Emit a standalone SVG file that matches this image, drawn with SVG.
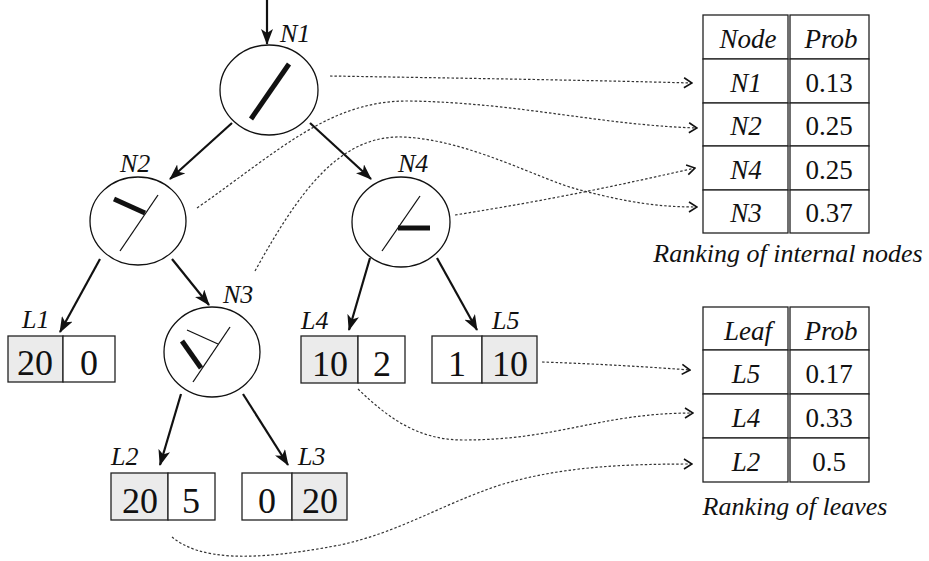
<svg xmlns="http://www.w3.org/2000/svg" width="929" height="561" viewBox="0 0 929 561">
<style>
text{fill:#111}
.it{font-style:italic}
.lbl{font-size:26px;font-style:italic}
.num{font-size:36px;text-anchor:middle}
.tb{font-size:27px;text-anchor:middle}
.cap{font-size:26px;font-style:italic;text-anchor:middle}
.node{fill:#fff;stroke:#111;stroke-width:1.3}
.thin{stroke:#111;stroke-width:1.3;fill:none}
.thick{stroke:#111;stroke-width:5;fill:none}
.box{fill:#fff;stroke:#222;stroke-width:1.3}
.gray{fill:#ebebeb;stroke:#222;stroke-width:1.3}
.arr{stroke:#111;stroke-width:2.2;fill:none;marker-end:url(#ah)}
.dot{stroke:#333;stroke-width:1.2;fill:none;stroke-dasharray:2.5,2;marker-end:url(#oa)}
.cell{fill:#fff;stroke:#222;stroke-width:1.3}
</style>
<defs>
<marker id="ah" viewBox="0 0 16 12" refX="15" refY="6" markerWidth="16" markerHeight="12" markerUnits="userSpaceOnUse" orient="auto">
<path d="M0,0 L16,6 L0,12 L4,6 z" fill="#111"/>
</marker>
<marker id="oa" viewBox="0 0 10 12" refX="9" refY="6" markerWidth="10" markerHeight="12" markerUnits="userSpaceOnUse" orient="auto">
<path d="M1,1 L9,6 L1,11" fill="none" stroke="#111" stroke-width="1.6"/>
</marker>
</defs>

<g id="connectors">
<line class="arr" x1="267" y1="0" x2="267" y2="44"/>
<line class="arr" x1="232" y1="123" x2="170" y2="179"/>
<line class="arr" x1="310" y1="123" x2="371" y2="179"/>
<line class="arr" x1="100" y1="259" x2="60" y2="332"/>
<line class="arr" x1="172" y1="259" x2="209" y2="305"/>
<line class="arr" x1="370" y1="258" x2="349" y2="330"/>
<line class="arr" x1="437" y1="258" x2="477" y2="330"/>
<line class="arr" x1="181" y1="394" x2="160" y2="465"/>
<line class="arr" x1="243" y1="394" x2="288" y2="465"/>
<path class="dot" d="M330,76 C450,78 580,80 692,83"/>
<path class="dot" d="M197,208 C280,150 330,100 410,101 C520,103 600,125 697,128"/>
<path class="dot" d="M255,271 C300,190 340,135 403,137 C470,140 540,180 580,190 C630,203 660,207 697,207"/>
<path class="dot" d="M455,215 C550,200 620,185 695,168"/>
<path class="dot" d="M542,362 C600,364 650,367 690,370"/>
<path class="dot" d="M358,389 C390,420 420,440 463,440 C560,440 600,413 693,413"/>
<path class="dot" d="M172,537 C200,560 250,562 340,545 C400,532 440,505 500,485 C560,467 620,464 692,464"/>
</g>

<g font-family="Liberation Serif, Tinos, Times New Roman, Times, Nimbus Roman, FreeSerif, DejaVu Serif, Noto Serif, serif">
<g id="N1">
<ellipse class="node" cx="269" cy="90" rx="49" ry="45"/>
<line class="thick" x1="251" y1="119" x2="289" y2="64"/>
<text class="lbl" x="280" y="42">N1</text>
</g>
<g id="N2">
<ellipse class="node" cx="138" cy="221" rx="48" ry="44"/>
<line class="thin" x1="120" y1="251" x2="158" y2="195"/>
<line class="thick" x1="114" y1="199" x2="145" y2="213"/>
<text class="lbl" x="120" y="172">N2</text>
</g>
<g id="N4">
<ellipse class="node" cx="401" cy="222" rx="49" ry="45"/>
<line class="thin" x1="382" y1="251" x2="420" y2="196"/>
<line class="thick" x1="398" y1="228" x2="430" y2="228"/>
<text class="lbl" x="398" y="172">N4</text>
</g>
<g id="N3">
<ellipse class="node" cx="212" cy="352" rx="48" ry="45"/>
<line class="thin" x1="193" y1="382" x2="230" y2="327"/>
<line class="thin" x1="187" y1="330" x2="218" y2="344"/>
<line class="thick" x1="182" y1="341" x2="201" y2="368"/>
<text class="lbl" x="223" y="303">N3</text>
</g>

<g id="L1">
<rect class="gray" x="8" y="336" width="55" height="46"/>
<rect class="box" x="63" y="336" width="52" height="46"/>
<text class="num" x="35" y="375">20</text>
<text class="num" x="89" y="375">0</text>
<text class="lbl" x="22" y="328">L1</text>
</g>
<g id="L4">
<rect class="gray" x="301" y="336" width="57" height="47"/>
<rect class="box" x="358" y="336" width="47" height="47"/>
<text class="num" x="330" y="376">10</text>
<text class="num" x="382" y="376">2</text>
<text class="lbl" x="301" y="329">L4</text>
</g>
<g id="L5">
<rect class="box" x="432" y="336" width="50" height="47"/>
<rect class="gray" x="482" y="336" width="55" height="47"/>
<text class="num" x="457" y="376">1</text>
<text class="num" x="510" y="376">10</text>
<text class="lbl" x="492" y="329">L5</text>
</g>
<g id="L2">
<rect class="gray" x="111" y="473" width="57" height="47"/>
<rect class="box" x="168" y="473" width="47" height="47"/>
<text class="num" x="140" y="513">20</text>
<text class="num" x="191" y="513">5</text>
<text class="lbl" x="111" y="465">L2</text>
</g>
<g id="L3">
<rect class="box" x="242" y="473" width="50" height="47"/>
<rect class="gray" x="292" y="473" width="55" height="47"/>
<text class="num" x="267" y="513">0</text>
<text class="num" x="320" y="513">20</text>
<text class="lbl" x="298" y="465">L3</text>
</g>

<g id="node-table">
<rect class="cell" x="703" y="15" width="85" height="44"/>
<rect class="cell" x="790" y="15" width="79" height="44"/>
<rect class="cell" x="703" y="59" width="85" height="44"/>
<rect class="cell" x="790" y="59" width="79" height="44"/>
<rect class="cell" x="703" y="103" width="85" height="43"/>
<rect class="cell" x="790" y="103" width="79" height="43"/>
<rect class="cell" x="703" y="146" width="85" height="44"/>
<rect class="cell" x="790" y="146" width="79" height="44"/>
<rect class="cell" x="703" y="190" width="85" height="43"/>
<rect class="cell" x="790" y="190" width="79" height="43"/>
<text class="tb it" x="748" y="48">Node</text>
<text class="tb it" x="831" y="48">Prob</text>
<text class="tb it" x="746" y="92">N1</text>
<text class="tb" x="829" y="92">0.13</text>
<text class="tb it" x="746" y="135">N2</text>
<text class="tb" x="829" y="135">0.25</text>
<text class="tb it" x="746" y="179">N4</text>
<text class="tb" x="829" y="179">0.25</text>
<text class="tb it" x="746" y="222">N3</text>
<text class="tb" x="829" y="222">0.37</text>
<text class="cap" x="788" y="262">Ranking of internal nodes</text>
</g>

<g id="leaf-table">
<rect class="cell" x="703" y="307" width="85" height="43"/>
<rect class="cell" x="790" y="307" width="79" height="43"/>
<rect class="cell" x="703" y="350" width="85" height="44"/>
<rect class="cell" x="790" y="350" width="79" height="44"/>
<rect class="cell" x="703" y="394" width="85" height="44"/>
<rect class="cell" x="790" y="394" width="79" height="44"/>
<rect class="cell" x="703" y="438" width="85" height="44"/>
<rect class="cell" x="790" y="438" width="79" height="44"/>
<text class="tb it" x="748" y="340">Leaf</text>
<text class="tb it" x="831" y="340">Prob</text>
<text class="tb it" x="746" y="383">L5</text>
<text class="tb" x="829" y="383">0.17</text>
<text class="tb it" x="746" y="427">L4</text>
<text class="tb" x="829" y="427">0.33</text>
<text class="tb it" x="746" y="471">L2</text>
<text class="tb" x="829" y="471">0.5</text>
<text class="cap" x="795" y="515">Ranking of leaves</text>
</g>
</g>
</svg>
